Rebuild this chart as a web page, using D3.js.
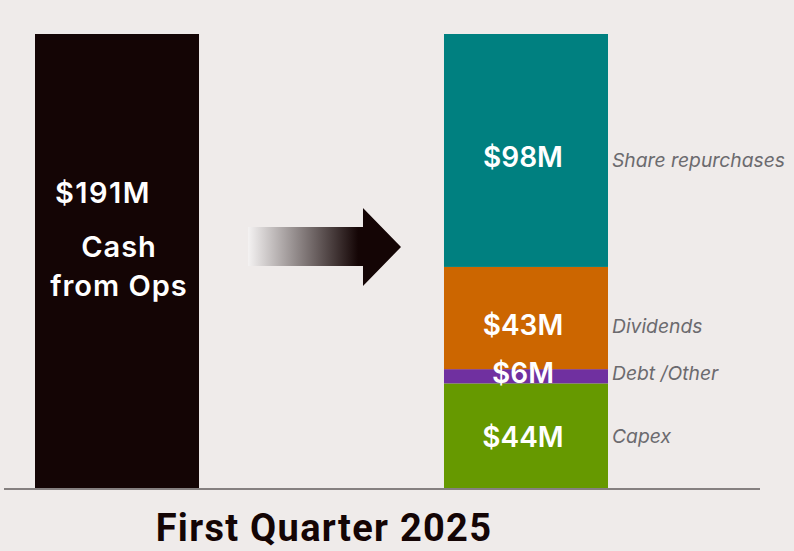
<!DOCTYPE html>
<html>
<head>
<meta charset="utf-8">
<script src="https://cdn.jsdelivr.net/npm/d3@7"></script>
<style>
  html, body { margin: 0; padding: 0; background: #efebea; }
  svg { display: block; }
  text { font-feature-settings: 'tnum'; }
</style>
</head>
<body>
<div id="chart"></div>
<script>
// source of cash
const sourceLabel = ['$191M', 'Cash', 'from Ops']
const sourceValue = 191

// uses of cash, stacked bottom to top
const useNames = ['Capex', 'Debt /Other', 'Dividends', 'Share repurchases']
const useValues = [44, 6, 43, 98]
const useColors = ['#669900', '#7030a0', '#cc6600', '#008080']

const columns = ['source', 'uses']
const title = 'First Quarter 2025'

const width = 794
const height = 551

const svg = d3.select('#chart').append('svg')
  .attr('width', width)
  .attr('height', height)

const x = d3.scaleBand()
  .domain(columns)
  .range([35, 608])
  .paddingInner(0.599)
  .paddingOuter(0)

const y = d3.scaleLinear()
  .domain([0, sourceValue])
  .range([488, 34])

// stack the uses
const stackRow = {}
useNames.forEach((n, i) => { stackRow[n] = useValues[i] })
const series = d3.stack().keys(useNames)([stackRow])

// gradient for the arrow
const defs = svg.append('defs')
const grad = defs.append('linearGradient')
  .attr('id', 'arrowGrad')
  .attr('x1', '0%').attr('x2', '100%')
  .attr('y1', '0%').attr('y2', '0%')
grad.append('stop').attr('offset', '0%').attr('stop-color', '#f4f2f2')
grad.append('stop').attr('offset', '72%').attr('stop-color', '#140505')
grad.append('stop').attr('offset', '100%').attr('stop-color', '#140505')

// left bar
svg.append('rect')
  .attr('x', x('source'))
  .attr('y', y(sourceValue))
  .attr('width', x.bandwidth())
  .attr('height', y(0) - y(sourceValue))
  .attr('fill', '#140505')

const cx = x('source') + x.bandwidth() / 2
svg.append('text')
  .attr('x', cx - 14)
  .attr('y', 203)
  .attr('text-anchor', 'middle')
  .attr('fill', '#fff')
  .style('font', '600 29px Inter, sans-serif')
  .style('letter-spacing', '1.5px')
  .text(sourceLabel[0])

svg.selectAll('text.src')
  .data(sourceLabel.slice(1))
  .join('text')
  .attr('class', 'src')
  .attr('x', cx + 2)
  .attr('y', (d, i) => 257 + i * 39)
  .attr('text-anchor', 'middle')
  .attr('fill', '#fff')
  .style('font', '600 29px Inter, sans-serif')
  .style('letter-spacing', '1px')
  .text(d => d)

// stacked uses bar
svg.selectAll('rect.seg')
  .data(series)
  .join('rect')
  .attr('class', 'seg')
  .attr('x', x('uses'))
  .attr('y', d => y(d[0][1]))
  .attr('width', x.bandwidth())
  .attr('height', d => y(d[0][0]) - y(d[0][1]))
  .attr('fill', (d, i) => useColors[i])

const mid = d => (y(d[0][0]) + y(d[0][1])) / 2
// small vertical nudges for the label placement
const valueNudge = { 'Capex': 1.5, 'Debt /Other': -3.5, 'Dividends': 7.5, 'Share repurchases': 6.5 }
const nameNudge = { 'Capex': 1, 'Debt /Other': -3.5, 'Dividends': 8, 'Share repurchases': 10 }

svg.selectAll('text.val')
  .data(series)
  .join('text')
  .attr('class', 'val')
  .attr('x', x('uses') + x.bandwidth() / 2 - 3)
  .attr('y', d => mid(d) + valueNudge[d.key])
  .attr('dy', '0.35em')
  .attr('text-anchor', 'middle')
  .attr('fill', '#fff')
  .style('font', '600 28px Inter, sans-serif')
  .text(d => '$' + (d[0][1] - d[0][0]) + 'M')

svg.selectAll('text.name')
  .data(series)
  .join('text')
  .attr('class', 'name')
  .attr('x', x('uses') + x.bandwidth() + 4)
  .attr('y', d => mid(d) + nameNudge[d.key])
  .attr('dy', '0.35em')
  .attr('fill', '#6b6a6e')
  .style('font', 'italic 400 19.3px Inter, sans-serif')
  .text(d => d.key)

// arrow between the bars
const ax0 = x('source') + x.bandwidth() + 49
const ax1 = x('uses') - 81
const ah = x('uses') - 43
const ay = 247
svg.append('path')
  .attr('d', d3.line()([
    [ax0, ay - 20], [ax1, ay - 20], [ax1, ay - 39], [ah, ay],
    [ax1, ay + 39], [ax1, ay + 19], [ax0, ay + 19]
  ]) + 'Z')
  .attr('fill', 'url(#arrowGrad)')

// baseline
svg.append('line')
  .attr('x1', 4).attr('x2', 760)
  .attr('y1', y(0) + 1).attr('y2', y(0) + 1)
  .attr('stroke', '#858080')
  .attr('stroke-width', 2)

// title
svg.append('text')
  .attr('x', 324)
  .attr('y', 541)
  .attr('text-anchor', 'middle')
  .attr('fill', '#140505')
  .style('font', '700 38px Roboto, sans-serif')
  .style('letter-spacing', '1.3px')
  .text(title)
</script>
</body>
</html>
